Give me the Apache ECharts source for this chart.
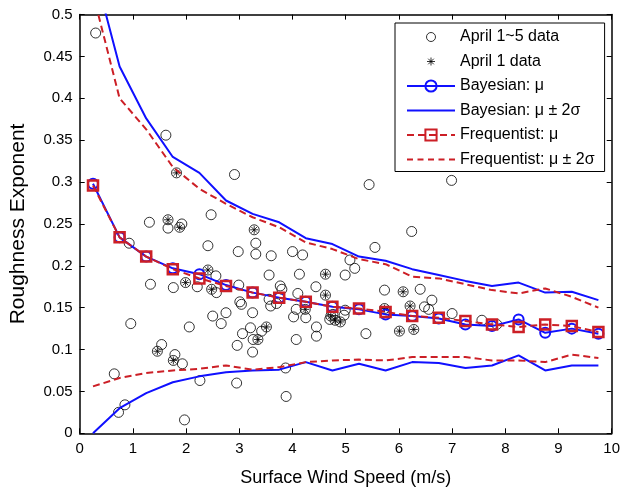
<!DOCTYPE html>
<html>
<head>
<meta charset="utf-8">
<script src="https://cdn.jsdelivr.net/npm/echarts@6/dist/echarts.min.js"></script>
<style>
  html, body { margin: 0; padding: 0; background: #fff; }
  #chart { width: 633px; height: 487px; }
</style>
</head>
<body>
<div id="chart"></div>
<script>
// Wind-speed bin centres (m/s)
const speedBins = [0.25, 0.75, 1.25, 1.75, 2.25, 2.75, 3.25, 3.75, 4.25, 4.75,
                   5.25, 5.75, 6.25, 6.75, 7.25, 7.75, 8.25, 8.75, 9.25, 9.75];

// Bayesian estimate of the roughness exponent per bin
const bayesMu    = [0.298, 0.234, 0.211, 0.197, 0.190, 0.177, 0.168, 0.162, 0.157, 0.151,
                    0.148, 0.142, 0.140, 0.137, 0.130, 0.128, 0.136, 0.120, 0.125, 0.119];
const bayesUpper = [0.559, 0.438, 0.376, 0.330, 0.311, 0.278, 0.262, 0.252, 0.233, 0.226,
                    0.211, 0.206, 0.196, 0.189, 0.182, 0.176, 0.180, 0.168, 0.169, 0.159];
const bayesLower = [0.000, 0.030, 0.048, 0.061, 0.068, 0.073, 0.075, 0.076, 0.085, 0.075,
                    0.083, 0.075, 0.085, 0.084, 0.078, 0.081, 0.093, 0.075, 0.081, 0.081];

// Frequentist estimate per bin
const freqMu     = [0.296, 0.234, 0.211, 0.196, 0.185, 0.176, 0.168, 0.162, 0.157, 0.151,
                    0.149, 0.145, 0.140, 0.138, 0.134, 0.130, 0.127, 0.130, 0.128, 0.121];
const freqUpper  = [0.525, 0.400, 0.363, 0.318, 0.292, 0.274, 0.258, 0.246, 0.228, 0.220,
                    0.208, 0.202, 0.187, 0.185, 0.178, 0.171, 0.167, 0.173, 0.163, 0.150];
const freqLower  = [0.056, 0.066, 0.072, 0.075, 0.077, 0.081, 0.076, 0.079, 0.085, 0.087,
                    0.088, 0.087, 0.091, 0.091, 0.091, 0.087, 0.087, 0.085, 0.094, 0.090];

// Observations from April 1 (also part of the April 1~5 set)
const apr1Wind  = [1.82, 1.66, 1.88, 3.28, 2.41, 1.99, 2.48, 4.62, 4.62, 4.24, 4.72,
                   4.80, 4.90, 3.51, 3.35, 1.46, 1.76, 5.73, 6.08, 6.21, 6.01, 6.28];
const apr1Alpha = [0.311, 0.255, 0.246, 0.243, 0.195, 0.180, 0.172, 0.190, 0.165, 0.148, 0.140,
                   0.135, 0.133, 0.127, 0.112, 0.098, 0.087, 0.149, 0.169, 0.152, 0.122, 0.124];

// Observations from April 2~5
const otherWind  = [0.30, 1.62, 2.91, 5.44, 6.99, 2.47, 1.31, 1.92, 1.66, 6.24,
                    0.93, 2.41, 3.31, 5.55, 2.98, 3.31, 3.60, 4.00, 4.19, 5.08,
                    5.17, 4.13, 3.56, 4.99, 2.56, 2.21, 1.76, 1.33, 2.57, 2.99,
                    3.77, 3.80, 4.10, 4.44, 5.73, 6.40, 6.62, 6.48, 6.56, 5.73,
                    3.56, 3.59, 3.70, 4.25, 4.07, 4.02, 3.25, 2.75, 2.50, 2.66,
                    3.01, 3.04, 3.42, 3.21, 3.26, 3.06, 3.25, 2.96, 4.07, 4.45,
                    4.45, 4.76, 4.99, 4.97, 4.70, 2.06, 0.96, 1.54, 1.79, 1.93,
                    0.65, 3.87, 2.26, 2.95, 3.88, 0.85, 0.73, 1.97, 7.00, 7.56,
                    7.84, 5.38];
const otherAlpha = [0.478, 0.356, 0.309, 0.297, 0.302, 0.261, 0.252, 0.250, 0.245, 0.241,
                    0.227, 0.224, 0.227, 0.222, 0.217, 0.214, 0.212, 0.217, 0.213, 0.207,
                    0.197, 0.190, 0.189, 0.189, 0.188, 0.175, 0.174, 0.178, 0.168, 0.177,
                    0.176, 0.172, 0.167, 0.175, 0.171, 0.172, 0.159, 0.151, 0.148, 0.144,
                    0.160, 0.152, 0.155, 0.138, 0.148, 0.139, 0.144, 0.144, 0.140, 0.131,
                    0.157, 0.154, 0.122, 0.126, 0.112, 0.119, 0.097, 0.105, 0.112, 0.127,
                    0.116, 0.142, 0.147, 0.141, 0.136, 0.127, 0.131, 0.106, 0.094, 0.083,
                    0.071, 0.078, 0.063, 0.060, 0.044, 0.034, 0.025, 0.016, 0.143, 0.135,
                    0.130, 0.119];

const FONT = "'Liberation Sans', Arial, Helvetica, sans-serif";
const BLUE = '#1010ff';
const RED = '#cc1f26';
const DASH = [7, 4];

const pairs = (xs, ys) => xs.map((x, i) => [x, ys[i]]);
const allObs = pairs(otherWind, otherAlpha).concat(pairs(apr1Wind, apr1Alpha));

// Eight-spoke star marker
const starPath = 'path://M0,4 L8,4 M4,0 L4,8 M1.2,1.2 L6.8,6.8 M1.2,6.8 L6.8,1.2';

// Legend icons (padded to the 48x14 legend slot)
const iconCircle = 'path://M0,0 M48,14 M28.5,7 A4.5,4.5 0 1 1 19.5,7 A4.5,4.5 0 1 1 28.5,7 Z';
const iconStar = 'path://M0,0 M48,14 M20,7 L28,7 M24,3 L24,11 M21.2,4.2 L26.8,9.8 M21.2,9.8 L26.8,4.2';
const iconSolid = 'path://M0,6 L48,6 L48,8 L0,8 Z';
const iconDashed = 'path://M0,6 L6,6 L6,8 L0,8 Z M10.5,6 L16.5,6 L16.5,8 L10.5,8 Z M21,6 L27,6 L27,8 L21,8 Z M31.5,6 L37.5,6 L37.5,8 L31.5,8 Z M42,6 L48,6 L48,8 L42,8 Z';

const chart = echarts.init(document.getElementById('chart'), null, { renderer: 'canvas' });

const axisCommon = {
  axisLine: { onZero: false, lineStyle: { color: '#000', width: 1.5 } },
  axisTick: { inside: true, length: 5, lineStyle: { color: '#000', width: 1 } },
  splitLine: { show: false }
};

const bandLine = (name, data, color, dashed) => ({
  type: 'line', name, data, symbol: 'none', clip: true, z: dashed ? 6 : 4,
  lineStyle: { color, width: 2, type: dashed ? DASH : 'solid' },
  itemStyle: { color }
});

chart.setOption({
  animation: false,
  backgroundColor: '#fff',
  textStyle: { fontFamily: FONT },
  grid: {
    left: 79.7, right: 21.3, top: 14.6, bottom: 53.7,
    containLabel: false, outerBoundsMode: 'none'
  },
  legend: {
    orient: 'vertical', left: 395, top: 23,
    itemWidth: 48, itemHeight: 14, itemGap: 8.5,
    padding: [6, 10, 4, 11],
    borderColor: '#000', borderWidth: 1, backgroundColor: '#fff',
    selectedMode: false,
    textStyle: { fontFamily: FONT, fontSize: 16, color: '#000', lineHeight: 16 },
    data: [
      { name: 'April 1~5 data', icon: iconCircle, itemStyle: { borderWidth: 1, borderColor: '#000', color: 'rgba(0,0,0,0)' } },
      { name: 'April 1 data', icon: iconStar, itemStyle: { borderWidth: 1, borderColor: '#000', color: 'rgba(0,0,0,0)' } },
      { name: 'Bayesian: μ' },
      { name: 'Bayesian: μ ± 2σ', icon: iconSolid, itemStyle: { color: BLUE, borderWidth: 0 } },
      { name: 'Frequentist: μ' },
      { name: 'Frequentist: μ ± 2σ', icon: iconDashed, itemStyle: { color: RED, borderWidth: 0 } }
    ]
  },
  xAxis: [
    Object.assign({
      type: 'value', position: 'bottom', min: 0, max: 10, interval: 1,
      name: 'Surface Wind Speed (m/s)', nameLocation: 'middle', nameGap: 36,
      nameTextStyle: { fontFamily: FONT, fontSize: 18, color: '#000' },
      axisLabel: { fontFamily: FONT, fontSize: 15, color: '#000', margin: 8 }
    }, axisCommon),
    Object.assign({
      type: 'value', position: 'top', min: 0, max: 10, interval: 1,
      axisLabel: { show: false }
    }, axisCommon)
  ],
  yAxis: [
    Object.assign({
      type: 'value', position: 'left', min: 0, max: 0.5, interval: 0.05,
      name: 'Roughness Exponent', nameLocation: 'middle', nameGap: 51,
      nameTextStyle: { fontFamily: FONT, fontSize: 21, color: '#000' },
      axisLabel: { fontFamily: FONT, fontSize: 15, color: '#000', margin: 7 }
    }, axisCommon),
    Object.assign({
      type: 'value', position: 'right', min: 0, max: 0.5, interval: 0.05,
      axisLabel: { show: false }
    }, axisCommon)
  ],
  series: [
    {
      type: 'scatter', name: 'April 1~5 data', data: allObs,
      symbol: 'circle', symbolSize: 10, z: 2,
      itemStyle: { color: 'rgba(0,0,0,0)', borderColor: '#000', borderWidth: 1 }
    },
    {
      type: 'scatter', name: 'April 1 data', data: pairs(apr1Wind, apr1Alpha),
      symbol: starPath, symbolSize: 8, z: 2,
      itemStyle: { color: 'rgba(0,0,0,0)', borderColor: '#000', borderWidth: 1 }
    },
    bandLine('Bayesian: μ ± 2σ', pairs(speedBins, bayesUpper), BLUE, false),
    bandLine('Bayesian: μ ± 2σ', pairs(speedBins, bayesLower), BLUE, false),
    {
      type: 'line', name: 'Bayesian: μ', data: pairs(speedBins, bayesMu),
      symbol: 'circle', symbolSize: 10, showSymbol: true, z: 5,
      lineStyle: { color: BLUE, width: 2 },
      itemStyle: { color: 'rgba(0,0,0,0)', borderColor: BLUE, borderWidth: 2 }
    },
    bandLine('Frequentist: μ ± 2σ', pairs(speedBins, freqUpper), RED, true),
    bandLine('Frequentist: μ ± 2σ', pairs(speedBins, freqLower), RED, true),
    {
      type: 'line', name: 'Frequentist: μ', data: pairs(speedBins, freqMu),
      symbol: 'rect', symbolSize: 10, showSymbol: true, z: 7,
      lineStyle: { color: RED, width: 2, type: DASH },
      itemStyle: { color: 'rgba(0,0,0,0)', borderColor: RED, borderWidth: 2.5 }
    }
  ]
});
</script>
</body>
</html>
